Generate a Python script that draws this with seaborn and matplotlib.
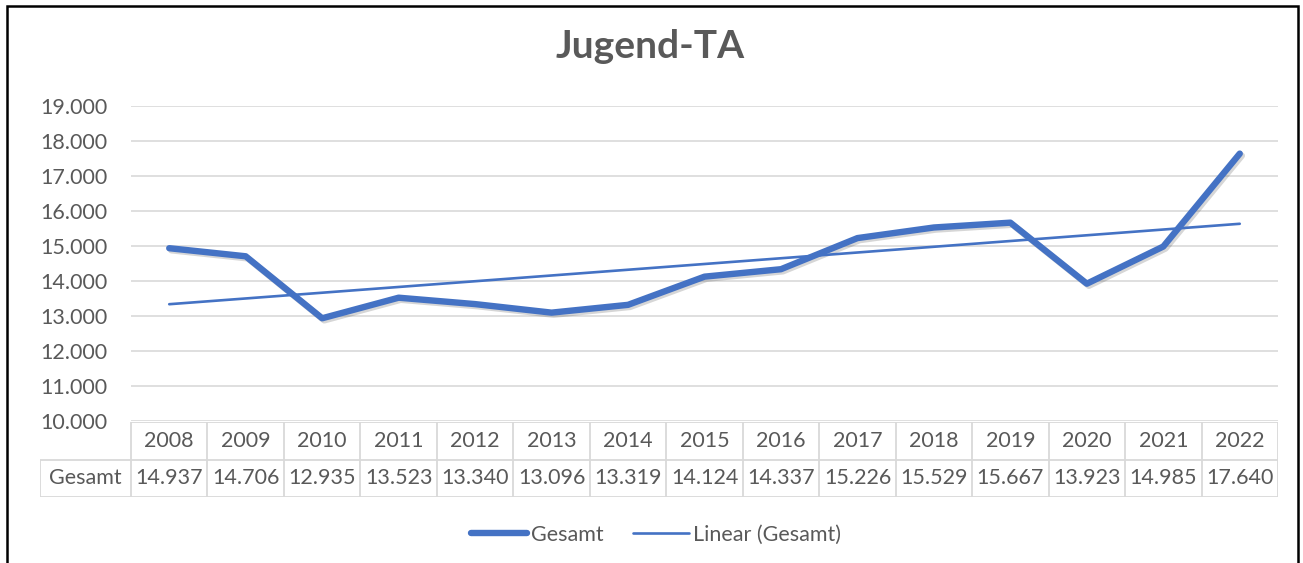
import numpy as np
import pandas as pd
import seaborn as sns
import matplotlib.pyplot as plt
from matplotlib.lines import Line2D
from matplotlib.patches import Rectangle
import matplotlib.patheffects as pe

sns.set_theme(style="white")
plt.rcParams['font.family'] = ['Lato', 'DejaVu Sans']

years = [2008, 2009, 2010, 2011, 2012, 2013, 2014, 2015, 2016, 2017, 2018, 2019, 2020, 2021, 2022]
gesamt = [14937, 14706, 12935, 13523, 13340, 13096, 13319, 14124, 14337, 15226, 15529, 15667, 13923, 14985, 17640]
title = "Jugend-TA"
row_label = "Gesamt"
trend_label = "Linear (Gesamt)"

BLUE = "#4472C4"
GREY = "#595959"
GRID = "#d9d9d9"
W, H = 1303, 563
FS = 15.5


def de_num(v):
    return "{:,}".format(int(v)).replace(",", ".")


df = pd.DataFrame({"pos": np.arange(len(years)), "year": years, "value": gesamt})
slope, icpt = np.polyfit(df["pos"], df["value"], 1)
df["trend"] = icpt + slope * df["pos"]

fig = plt.figure(figsize=(W / 100, H / 100), dpi=100)

# main chart area
ax = fig.add_axes([131 / W, (H - 421) / H, (1278 - 131) / W, (421 - 106) / H])
shadow = [pe.SimpleLineShadow(offset=(1.5, -1.5), alpha=0.2, shadow_color="#333333"), pe.Normal()]
sns.lineplot(data=df, x="pos", y="value", ax=ax, color=BLUE, linewidth=4.6,
             solid_capstyle="round", solid_joinstyle="round", path_effects=shadow)
sns.lineplot(data=df, x="pos", y="trend", ax=ax, color=BLUE, linewidth=1.9,
             solid_capstyle="round")
ax.set_xlim(-0.5, len(years) - 0.5)
ax.set_ylim(10000, 19000)
ax.set_yticks(range(10000, 19001, 1000))
ax.set_yticklabels([de_num(t) for t in range(10000, 19001, 1000)], color=GREY, fontsize=FS)
ax.tick_params(axis="y", length=0, pad=17)
ax.set_xticks([])
ax.set_xlabel("")
ax.set_ylabel("")
ax.grid(axis="y", color=GRID, linewidth=1.2)
for s in ax.spines.values():
    s.set_visible(False)

# data table under the chart
left_px = 40
tax = fig.add_axes([left_px / W, (H - 497) / H, (1278 - left_px) / W, (497 - 422) / H])
x0 = -0.5 - (131 - left_px) / ((1278 - 131) / len(years))
tax.set_xlim(x0, len(years) - 0.5)
tax.set_ylim(0, 2)
tax.axis("off")
tax.hlines(2, -0.5, len(years) - 0.5, color=GRID, lw=1.3)
tax.hlines([0, 1], x0, len(years) - 0.5, color=GRID, lw=1.3)
tax.vlines(np.arange(len(years) + 1) - 0.5, 0, 2, color=GRID, lw=1.3)
tax.vlines(x0, 0, 1, color=GRID, lw=1.3)
for i, (yr, v) in enumerate(zip(years, gesamt)):
    tax.text(i, 1.5, str(yr), ha="center", va="center", color=GREY, fontsize=FS)
    tax.text(i, 0.5, de_num(v), ha="center", va="center", color=GREY, fontsize=FS)
tax.text((x0 - 0.5) / 2, 0.5, row_label, ha="center", va="center", color=GREY, fontsize=FS)

fig.text(650 / W, 1 - 47 / H, title, ha="center", va="center", fontsize=28,
         fontweight="bold", color=GREY)

handles = [Line2D([], [], color=BLUE, lw=4.6, solid_capstyle="round"),
           Line2D([], [], color=BLUE, lw=1.9)]
fig.legend(handles, [row_label, trend_label], loc="center", bbox_to_anchor=(656 / W, 1 - 535 / H),
           ncol=2, frameon=False, fontsize=FS, labelcolor=GREY, handlelength=2.6,
           handletextpad=0.15, columnspacing=1.4)

# outer border of the chart object
fig.patches.append(Rectangle((7 / W, -0.05), (1298 - 7) / W, 1.05 - 6 / H, transform=fig.transFigure,
                             fill=False, edgecolor="black", linewidth=1.8, clip_on=False))

fig.savefig("out.png", dpi=100)
